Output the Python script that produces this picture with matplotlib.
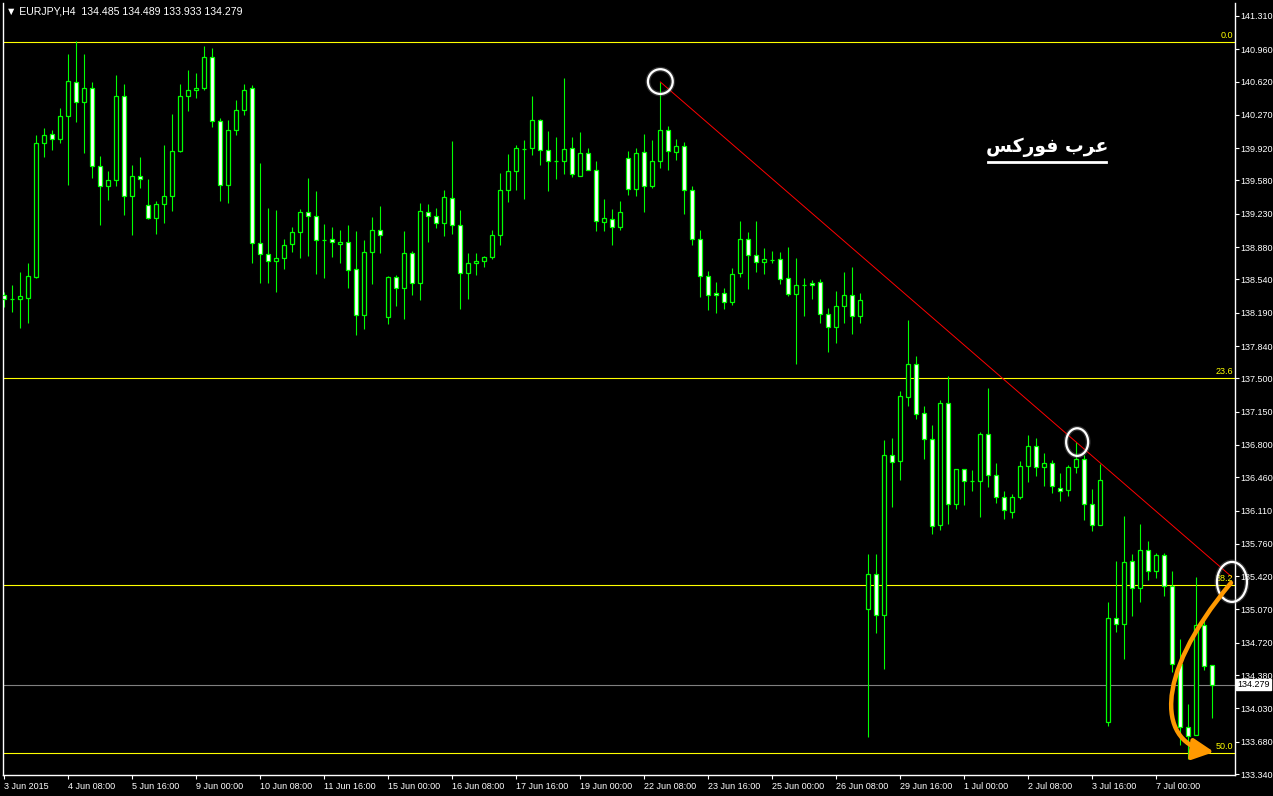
import numpy as np
import matplotlib
matplotlib.use('Agg')
import matplotlib.pyplot as plt
from matplotlib.patches import Ellipse, FancyArrowPatch
from matplotlib.path import Path

plt.rcParams['font.family'] = ['Liberation Sans', 'DejaVu Sans']

# EURJPY H4, 3 Jun 2015 .. 7 Jul 2015
opens = [
    138.380, 138.331, 138.331, 138.348, 138.569, 139.972, 140.066, 140.014, 140.255, 140.613,
    140.403, 140.550, 139.730, 139.519, 139.583, 140.466, 139.414, 139.625, 139.320, 139.189,
    139.330, 139.414, 139.887, 140.466, 140.529, 140.550, 140.876, 140.206, 139.530, 140.111,
    140.322, 140.550, 138.920, 138.805, 138.731, 138.763, 138.910, 139.036, 139.246, 139.204,
    138.958, 138.962, 138.910, 138.931, 138.647, 138.163, 138.826, 139.057, 138.142, 138.563,
    138.447, 138.815, 138.500, 139.252, 139.204, 139.130, 139.393, 139.109, 138.605, 138.710,
    138.731, 138.773, 139.004, 139.477, 139.677, 139.908, 139.919, 140.213, 139.898, 139.782,
    139.782, 139.919, 139.625, 139.866, 139.688, 139.141, 139.173, 139.088, 139.814, 139.488,
    139.877, 139.519, 139.782, 140.108, 139.877, 139.940, 139.477, 138.962, 138.573, 138.395,
    138.395, 138.300, 138.605, 138.962, 138.794, 138.720, 138.748, 138.752, 138.552, 138.384,
    138.479, 138.500, 138.510, 138.174, 138.037, 138.258, 138.374, 138.153, 135.072, 135.440,
    135.009, 136.691, 136.628, 137.301, 137.648, 137.133, 136.860, 135.956, 137.238, 136.176,
    136.544, 136.424, 136.424, 136.912, 136.481, 136.250, 136.092, 136.250, 136.576, 136.786,
    136.565, 136.607, 136.345, 136.324, 136.565, 136.649, 136.176, 135.956, 133.885, 134.978,
    134.915, 135.577, 135.293, 135.693, 135.472, 135.640, 135.314, 134.494, 133.832, 133.748,
    134.904, 134.485]
highs = [
    138.411, 138.482, 138.618, 138.713, 140.059, 140.132, 140.111, 140.343, 140.910, 141.047,
    140.910, 140.616, 139.838, 139.680, 140.690, 140.595, 139.743, 139.828, 139.596, 139.365,
    139.954, 140.280, 140.595, 140.742, 140.711, 140.994, 140.973, 140.238, 140.216, 140.427,
    140.595, 140.584, 139.764, 139.291, 139.270, 138.965, 139.088, 139.278, 139.607, 139.470,
    139.123, 139.092, 139.060, 139.113, 139.050, 138.955, 139.197, 139.312, 138.573, 138.584,
    139.050, 138.836, 139.344, 139.333, 139.288, 139.481, 139.996, 139.270, 138.815, 138.815,
    138.784, 139.057, 139.656, 139.856, 139.951, 140.003, 140.469, 140.224, 140.101, 140.038,
    140.658, 140.035, 140.087, 139.919, 139.782, 139.383, 139.278, 139.362, 139.887, 139.919,
    140.069, 140.006, 140.616, 140.153, 140.014, 139.985, 139.519, 139.057, 138.629, 138.513,
    138.447, 138.657, 139.152, 139.036, 139.152, 138.868, 138.836, 138.826, 138.878, 138.763,
    138.552, 138.531, 138.542, 138.237, 138.416, 138.622, 138.668, 138.395, 135.654, 135.654,
    136.852, 136.873, 137.367, 138.114, 137.735, 137.207, 137.007, 137.270, 137.522, 136.551,
    136.551, 136.534, 136.933, 137.396, 136.607, 136.313, 136.281, 136.628, 136.902, 136.870,
    136.713, 136.639, 136.502, 136.586, 136.828, 136.691, 136.334, 136.597, 135.152, 135.583,
    136.056, 135.651, 135.966, 135.791, 135.661, 135.661, 135.472, 134.757, 134.074, 135.409,
    134.957, 134.489]
lows = [
    138.254, 138.201, 138.033, 138.086, 138.559, 139.831, 139.901, 139.978, 139.536, 140.199,
    139.873, 139.610, 139.113, 139.379, 139.526, 139.221, 139.011, 139.505, 139.173, 139.021,
    139.137, 139.263, 139.883, 140.314, 140.451, 140.529, 140.146, 139.368, 139.347, 140.059,
    140.269, 138.716, 138.506, 138.506, 138.411, 138.653, 138.832, 138.769, 138.790, 138.601,
    138.559, 138.779, 138.716, 138.453, 137.959, 138.022, 138.496, 138.821, 138.075, 138.264,
    138.128, 138.380, 138.327, 138.937, 139.084, 139.000, 139.021, 138.233, 138.338, 138.590,
    138.674, 138.752, 138.906, 139.358, 139.484, 139.389, 139.852, 139.747, 139.473, 139.599,
    139.652, 139.620, 139.625, 139.688, 139.053, 139.053, 138.906, 139.057, 139.431, 139.421,
    139.252, 139.498, 139.712, 139.694, 139.793, 139.231, 138.899, 138.359, 138.222, 138.191,
    138.233, 138.275, 138.563, 138.443, 138.615, 138.594, 138.710, 138.489, 138.363, 137.648,
    138.159, 138.338, 138.086, 137.781, 137.875, 138.079, 137.970, 138.079, 133.733, 134.820,
    134.442, 136.151, 136.435, 137.213, 137.070, 136.656, 135.861, 135.903, 135.966, 136.124,
    136.166, 136.319, 136.040, 136.355, 136.187, 136.019, 136.029, 136.229, 136.408, 136.471,
    136.366, 136.298, 136.208, 136.260, 136.502, 136.008, 135.892, 135.956, 133.842, 134.831,
    134.547, 134.999, 135.146, 135.377, 135.398, 135.209, 134.410, 133.643, 133.496, 133.748,
    134.431, 133.933]
closes = [
    138.331, 138.331, 138.363, 138.573, 139.972, 140.056, 140.014, 140.255, 140.623, 140.403,
    140.550, 139.730, 139.519, 139.583, 140.466, 139.414, 139.625, 139.593, 139.189, 139.330,
    139.414, 139.887, 140.466, 140.529, 140.550, 140.876, 140.206, 139.530, 140.111, 140.322,
    140.532, 138.920, 138.805, 138.731, 138.763, 138.899, 139.036, 139.246, 139.204, 138.952,
    138.952, 138.931, 138.931, 138.636, 138.163, 138.826, 139.057, 139.004, 138.563, 138.447,
    138.815, 138.500, 139.257, 139.204, 139.130, 139.404, 139.109, 138.605, 138.710, 138.731,
    138.773, 139.004, 139.477, 139.677, 139.919, 139.915, 140.213, 139.898, 139.782, 139.782,
    139.908, 139.646, 139.866, 139.688, 139.152, 139.183, 139.088, 139.246, 139.488, 139.866,
    139.519, 139.782, 140.108, 139.887, 139.940, 139.477, 138.962, 138.573, 138.374, 138.374,
    138.300, 138.594, 138.962, 138.794, 138.720, 138.752, 138.748, 138.542, 138.384, 138.479,
    138.479, 138.479, 138.174, 138.037, 138.258, 138.374, 138.153, 138.321, 135.440, 135.009,
    136.691, 136.618, 137.312, 137.648, 137.123, 136.860, 135.945, 137.238, 136.176, 136.544,
    136.418, 136.424, 136.912, 136.481, 136.250, 136.113, 136.250, 136.576, 136.786, 136.565,
    136.607, 136.366, 136.313, 136.565, 136.649, 136.176, 135.956, 136.429, 134.978, 134.915,
    135.567, 135.293, 135.693, 135.472, 135.640, 135.314, 134.494, 133.832, 133.737, 134.904,
    134.473, 134.279]

date_labels = ['3 Jun 2015', '4 Jun 08:00', '5 Jun 16:00', '9 Jun 00:00', '10 Jun 08:00',
               '11 Jun 16:00', '15 Jun 00:00', '16 Jun 08:00', '17 Jun 16:00', '19 Jun 00:00',
               '22 Jun 08:00', '23 Jun 16:00', '25 Jun 00:00', '26 Jun 08:00', '29 Jun 16:00',
               '1 Jul 00:00', '2 Jul 08:00', '3 Jul 16:00', '7 Jul 00:00']
price_ticks = [141.310, 140.960, 140.620, 140.270, 139.920, 139.580, 139.230, 138.880,
               138.540, 138.190, 137.840, 137.500, 137.150, 136.800, 136.460, 136.110,
               135.760, 135.420, 135.070, 134.720, 134.380, 134.030, 133.680, 133.340]

# fibonacci retracement
fib_0 = 141.037
fib_100 = 126.087
fib_pcts = [0.0, 23.6, 38.2, 50.0]

# trend line through the two highs
trend_x = [82, 153.4]
trend_y = [140.616, 135.415]

GREEN = '#00FF00'

fig = plt.figure(figsize=(12.73, 7.96), dpi=100, facecolor='black')
ax = fig.add_axes([3 / 1273, 21 / 796, 1232 / 1273, 772 / 796])
ax.set_facecolor('black')

n = len(opens)
x = np.arange(n)
o = np.array(opens)
c = np.array(closes)
bear = c < o
fills = np.where(bear, 'white', 'black')

ax.vlines(x, lows, highs, color=GREEN, linewidth=0.8, zorder=2)
ax.bar(x, np.abs(c - o), bottom=np.minimum(o, c), width=0.5, color=fills,
       edgecolor=GREEN, linewidth=0.9, zorder=3)

for p in fib_pcts:
    lvl = fib_0 - p / 100 * (fib_0 - fib_100)
    ax.axhline(lvl, color='#FFFF00', linewidth=0.8, zorder=1)
    ax.text(153.55, lvl + 0.02, f'{p:.1f}', color='#FFFF00', fontsize=6.5,
            ha='right', va='bottom', zorder=6)

ax.axhline(closes[-1], color='#808080', linewidth=0.8, zorder=1)
ax.plot(trend_x, trend_y, color='red', linewidth=0.7, zorder=4)

# white circles on the touches
for cx, cy, w, h in [(82.0, 140.62, 3.1, 0.26), (134.1, 136.83, 2.75, 0.29),
                     (153.45, 135.36, 3.75, 0.42)]:
    ax.add_patch(Ellipse((cx, cy), w, h, fill=False, edgecolor='#888888',
                         linewidth=3.5, alpha=0.35, zorder=6, clip_on=False))
    ax.add_patch(Ellipse((cx, cy), w, h, fill=False, edgecolor='white',
                         linewidth=1.6, zorder=7, clip_on=False))

# orange curved arrow
arrow_path = Path([(153.33, 135.35), (143.2, 134.33), (144.46, 133.646), (151.21, 133.572)],
                  [Path.MOVETO, Path.CURVE4, Path.CURVE4, Path.CURVE4])
ax.add_patch(FancyArrowPatch(path=arrow_path, arrowstyle='-|>', mutation_scale=32,
                             color='#FF9900', linewidth=3.2, zorder=8, clip_on=False))

# arabic watermark (shaped glyphs in visual order)
ax.text(130.3, 139.93, '\uFEB2\uFEDB\uFEAD\uFEEE\uFED3 \uFE8F\uFEAE\uFECB', color='white',
        fontsize=13.5, fontweight='bold', family='DejaVu Sans', ha='center', va='center', zorder=6)
ax.plot([123.0, 137.7], [139.77, 139.77], color='white', linewidth=2, zorder=6)

ax.set_xlim(-0.166, 153.83)
ax.set_ylim(133.330, 141.446)

ax.set_xticks(np.arange(0, n, 8)[:len(date_labels)])
ax.set_xticklabels(date_labels, ha='left')
ax.set_yticks(price_ticks)
ax.set_yticklabels([f'{v:.3f}' for v in price_ticks])
ax.yaxis.tick_right()
ax.tick_params(axis='both', colors='white', labelcolor='white', labelsize=6.5,
               length=3, width=0.8, pad=1)
ax.tick_params(axis='x', pad=2)

for s in ['left', 'right', 'bottom']:
    ax.spines[s].set_color('white')
    ax.spines[s].set_linewidth(1)
ax.spines['top'].set_visible(False)

ax.text(1.002, closes[-1], f'{closes[-1]:.3f}', transform=ax.get_yaxis_transform(),
        color='black', fontsize=6.5, va='center', ha='left', zorder=9,
        bbox=dict(facecolor='white', edgecolor='white', pad=0.8))

fig.text(6 / 1273, 1 - 11 / 796, '\u25BC EURJPY,H4  134.485 134.489 133.933 134.279',
         color='white', fontsize=7.6, va='center', ha='left')

fig.savefig('out.png', dpi=100, facecolor='black')
